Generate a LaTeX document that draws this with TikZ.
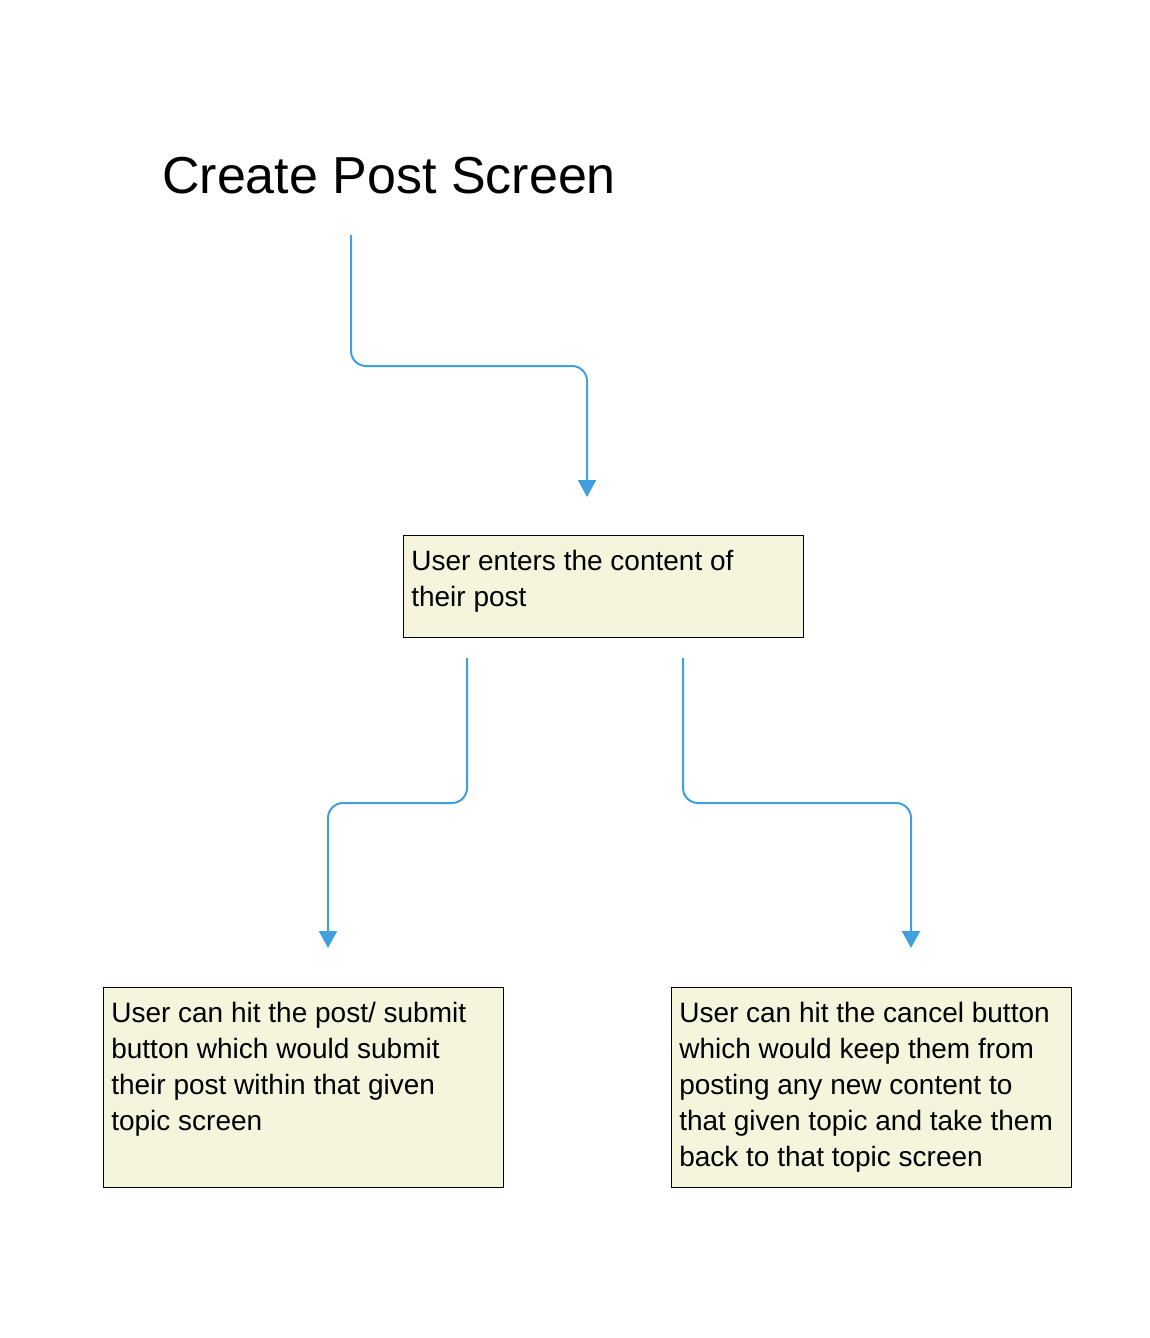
\documentclass[tikz,border=0pt]{standalone}
\usepackage{fontspec}
\setmainfont{Liberation Sans}
\usetikzlibrary{arrows.meta}

\definecolor{notefill}{RGB}{245,245,222}
\definecolor{flowblue}{RGB}{64,160,221}

\begin{document}
\begin{tikzpicture}[x=1pt, y=-1pt,
        note/.style={draw=black, line width=1.6pt, fill=notefill, anchor=north west,
            inner xsep=8pt, inner ysep=10pt, font=\fontsize{28}{36}\selectfont},
        flow/.style={draw=flowblue, line width=2pt, rounded corners=15pt,
            -{Triangle[width=18pt, length=17pt]}}]
        \useasboundingbox (0,0) rectangle (1150,1338);

        % Title
        \node[anchor=base west, inner sep=0pt, font=\fontsize{52}{60}\selectfont] (title) at (162,193) {Create Post Screen};

        % Boxes
        \node[note] (entry) at (402.5,534.5)
            {\parbox[t][82pt][t]{384pt}{\strut User enters the content of\\their post}};
        \node[note] (submit) at (102.5,986.5)
            {\parbox[t][180pt][t]{384pt}{\strut User can hit the post/ submit\\button which would submit\\their post within that given\\topic screen}};
        \node[note] (cancel) at (670.5,986.5)
            {\parbox[t][180pt][t]{384pt}{\strut User can hit the cancel button\\which would keep them from\\posting any new content to\\that given topic and take them\\back to that topic screen}};

        % Connector ends
        \coordinate (titlefoot) at (351,235);
        \coordinate (entrytop) at (587,497);
        \coordinate (entryleft) at (467,658);
        \coordinate (entryright) at (683,658);
        \coordinate (submittop) at (328,948);
        \coordinate (canceltop) at (911,948);

        % Connectors
        \draw[flow] (titlefoot) -- ++(0,131) -| (entrytop);
        \draw[flow] (entryleft) -- ++(0,145) -| (submittop);
        \draw[flow] (entryright) -- ++(0,145) -| (canceltop);

    \end{tikzpicture}
\end{document}
